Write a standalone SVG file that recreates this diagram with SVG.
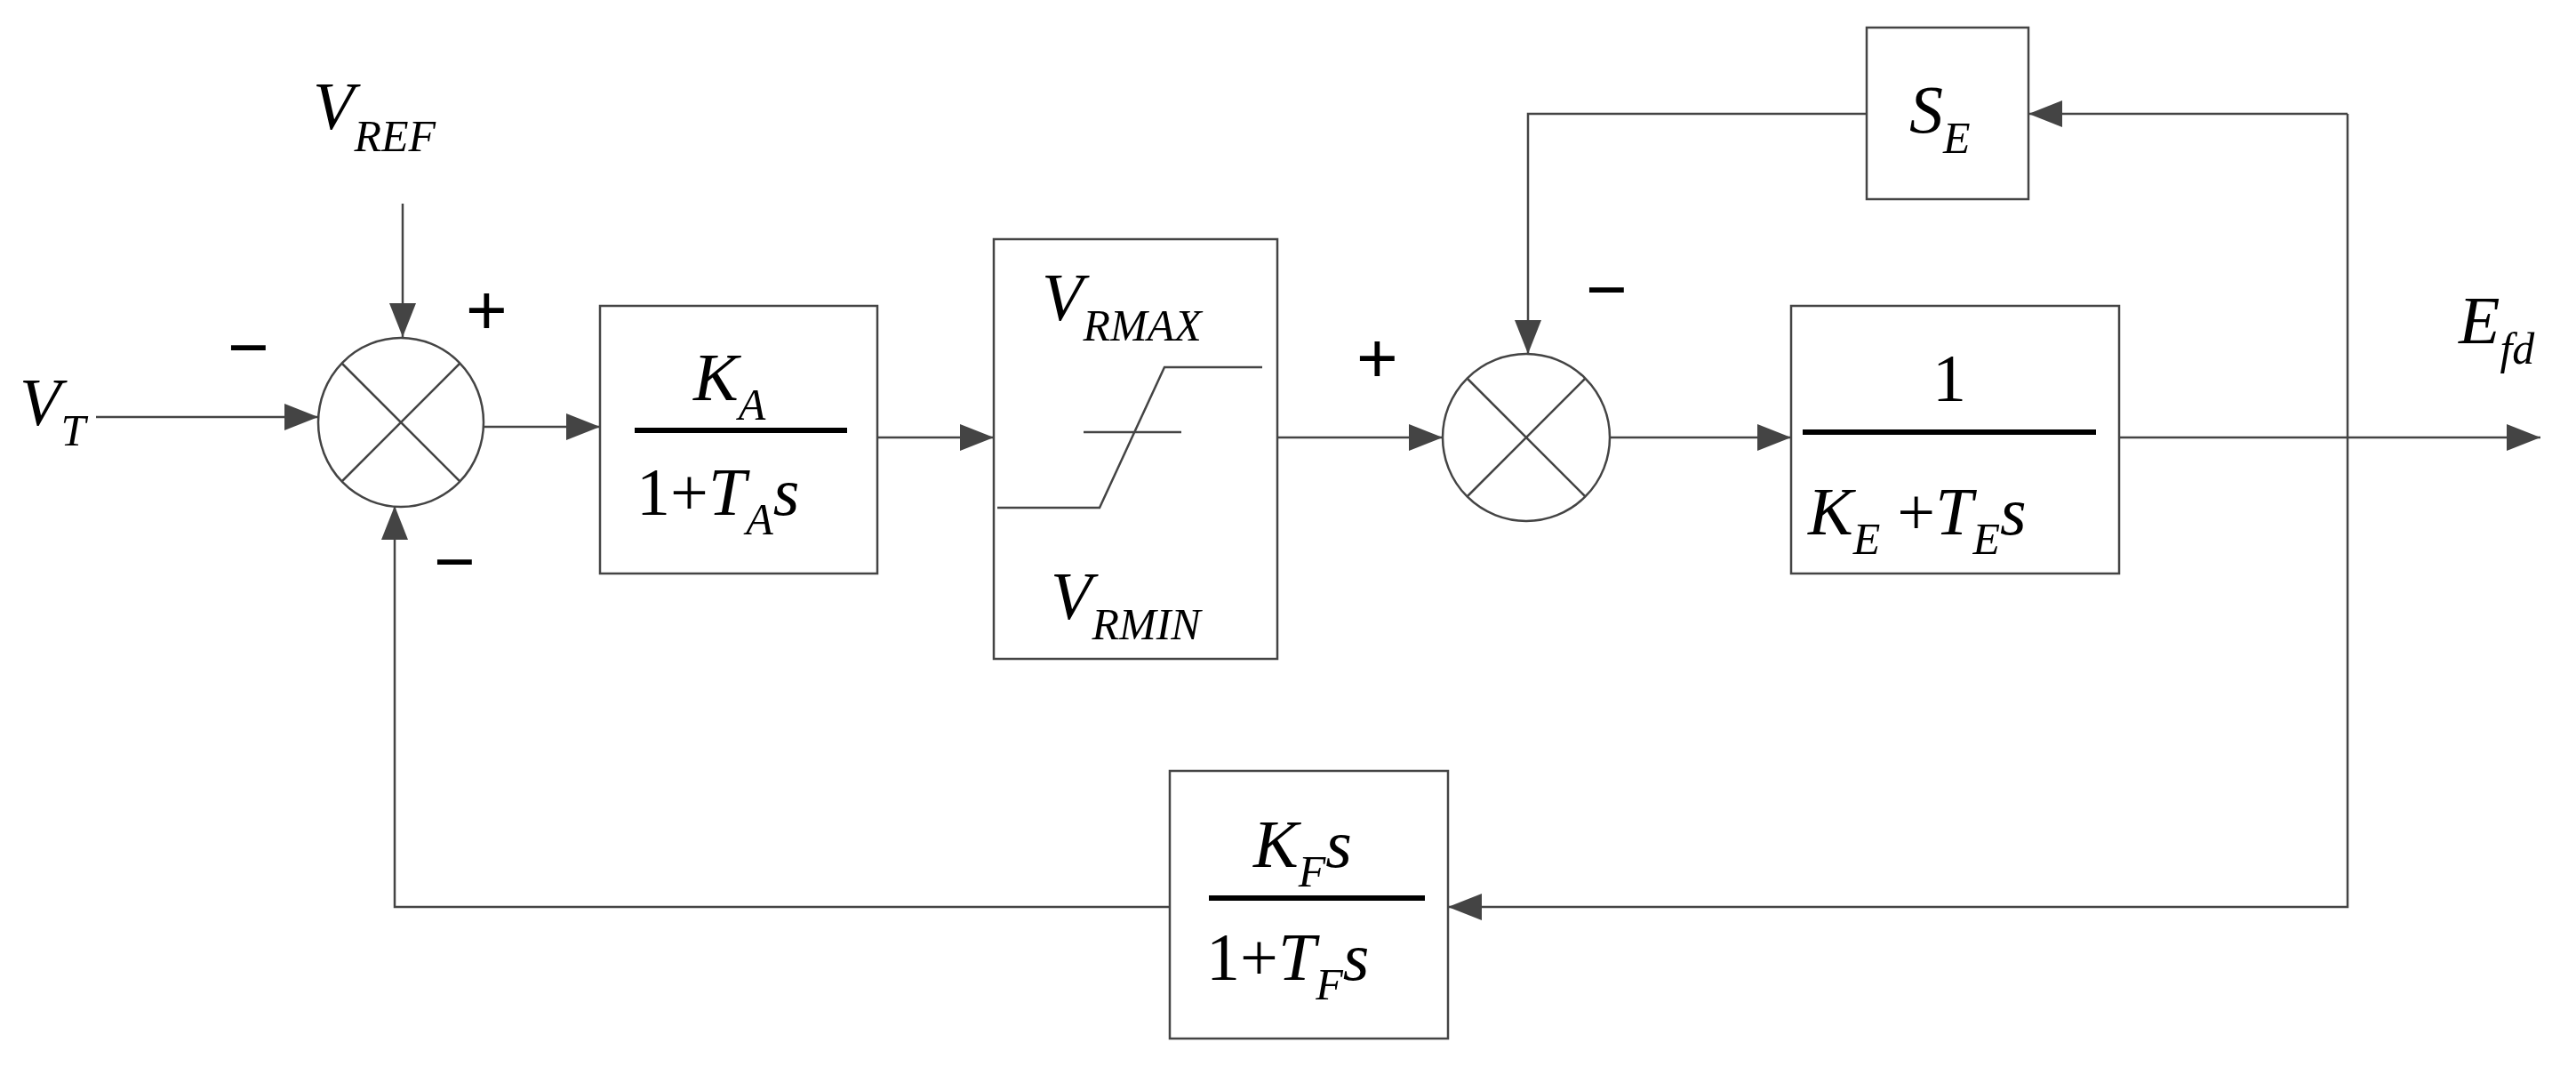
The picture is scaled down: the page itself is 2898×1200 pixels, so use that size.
<svg xmlns="http://www.w3.org/2000/svg" width="2898" height="1200" viewBox="0 0 2898 1200">
<style>
.l{stroke:#444;stroke-width:2.5;fill:none}
.b{stroke:#444;stroke-width:2.5;fill:#fff}
.bar{stroke:#000;stroke-width:6}
.t{font-family:"Liberation Serif",serif;font-size:76px;fill:#000}
.i{font-style:italic}
.s{font-family:"Liberation Serif",serif;font-style:italic;font-size:50px}
.sg{font-family:"Liberation Sans",sans-serif;font-size:80px;fill:#000}
</style>
<defs><marker id="a" markerWidth="38" markerHeight="30" refX="38" refY="15" orient="auto" markerUnits="userSpaceOnUse"><path d="M0,0L38,15L0,30z" fill="#444"/></marker></defs>
<g id="connectors">
<path class="l" d="M108,469H358" marker-end="url(#a)"/>
<path class="l" d="M453,229V379" marker-end="url(#a)"/>
<path class="l" d="M545,480H675" marker-end="url(#a)"/>
<path class="l" d="M987,492H1118" marker-end="url(#a)"/>
<path class="l" d="M1437,492H1623" marker-end="url(#a)"/>
<path class="l" d="M1811,492H2015" marker-end="url(#a)"/>
<path class="l" d="M2384,492H2858" marker-end="url(#a)"/>
<path class="l" d="M2100,128H1719V398" marker-end="url(#a)"/>
<path class="l" d="M2641,128V1020H1629" marker-end="url(#a)"/>
<path class="l" d="M2641,128H2282" marker-end="url(#a)"/>
<path class="l" d="M1316,1020H444V569" marker-end="url(#a)"/>
</g>
<g id="sum1">
<ellipse class="b" cx="451" cy="475" rx="93" ry="95"/>
<path class="l" d="M385,409L517,541M517,409L385,541"/>
<text class="sg" x="256" y="418">−</text>
<text class="sg" x="524" y="376">+</text>
<text class="sg" x="488" y="659">−</text>
</g>
<g id="vt"><text class="t i" x="22" y="478">V<tspan class="s" dy="23">T</tspan></text></g>
<g id="vref"><text class="t i" x="352" y="145">V<tspan class="s" dy="25">REF</tspan></text></g>
<g id="ka">
<rect class="b" x="675" y="344" width="312" height="301"/>
<line class="bar" x1="714" y1="484" x2="953" y2="484"/>
<text class="t i" x="780" y="450">K<tspan class="s" dy="22">A</tspan></text>
<text class="t" x="716" y="579">1+<tspan class="i">T</tspan><tspan class="s" dy="22">A</tspan><tspan class="i" dy="-22">s</tspan></text>
</g>
<g id="limiter">
<rect class="b" x="1118" y="269" width="319" height="472"/>
<text class="t i" x="1172" y="360">V<tspan class="s" dy="23">RMAX</tspan></text>
<path class="l" d="M1122,571H1237L1310,413H1420M1219,486H1329"/>
<text class="t i" x="1182" y="696">V<tspan class="s" dy="23">RMIN</tspan></text>
</g>
<g id="sum2">
<ellipse class="b" cx="1717" cy="492" rx="94" ry="94"/>
<path class="l" d="M1651,426L1783,558M1783,426L1651,558"/>
<text class="sg" x="1526" y="430">+</text>
<text class="sg" x="1784" y="353">−</text>
</g>
<g id="se">
<rect class="b" x="2100" y="31" width="182" height="193"/>
<text class="t i" x="2148" y="149">S<tspan class="s" dy="23">E</tspan></text>
</g>
<g id="ke">
<rect class="b" x="2015" y="344" width="369" height="301"/>
<line class="bar" x1="2028" y1="486" x2="2358" y2="486"/>
<text class="t" x="2193" y="451" text-anchor="middle">1</text>
<text class="t" x="2034" y="601"><tspan class="i">K</tspan><tspan class="s" dy="22">E</tspan><tspan dy="-22"> +</tspan><tspan class="i">T</tspan><tspan class="s" dy="22">E</tspan><tspan class="i" dy="-22">s</tspan></text>
</g>
<g id="efd"><text class="t i" x="2766" y="386">E<tspan class="s" dy="23">fd</tspan></text></g>
<g id="kf">
<rect class="b" x="1316" y="867" width="313" height="301"/>
<line class="bar" x1="1360" y1="1010" x2="1603" y2="1010"/>
<text class="t i" x="1410" y="975">K<tspan class="s" dy="22">F</tspan><tspan dy="-22">s</tspan></text>
<text class="t" x="1357" y="1102">1+<tspan class="i">T</tspan><tspan class="s" dy="22">F</tspan><tspan class="i" dy="-22">s</tspan></text>
</g>
</svg>
